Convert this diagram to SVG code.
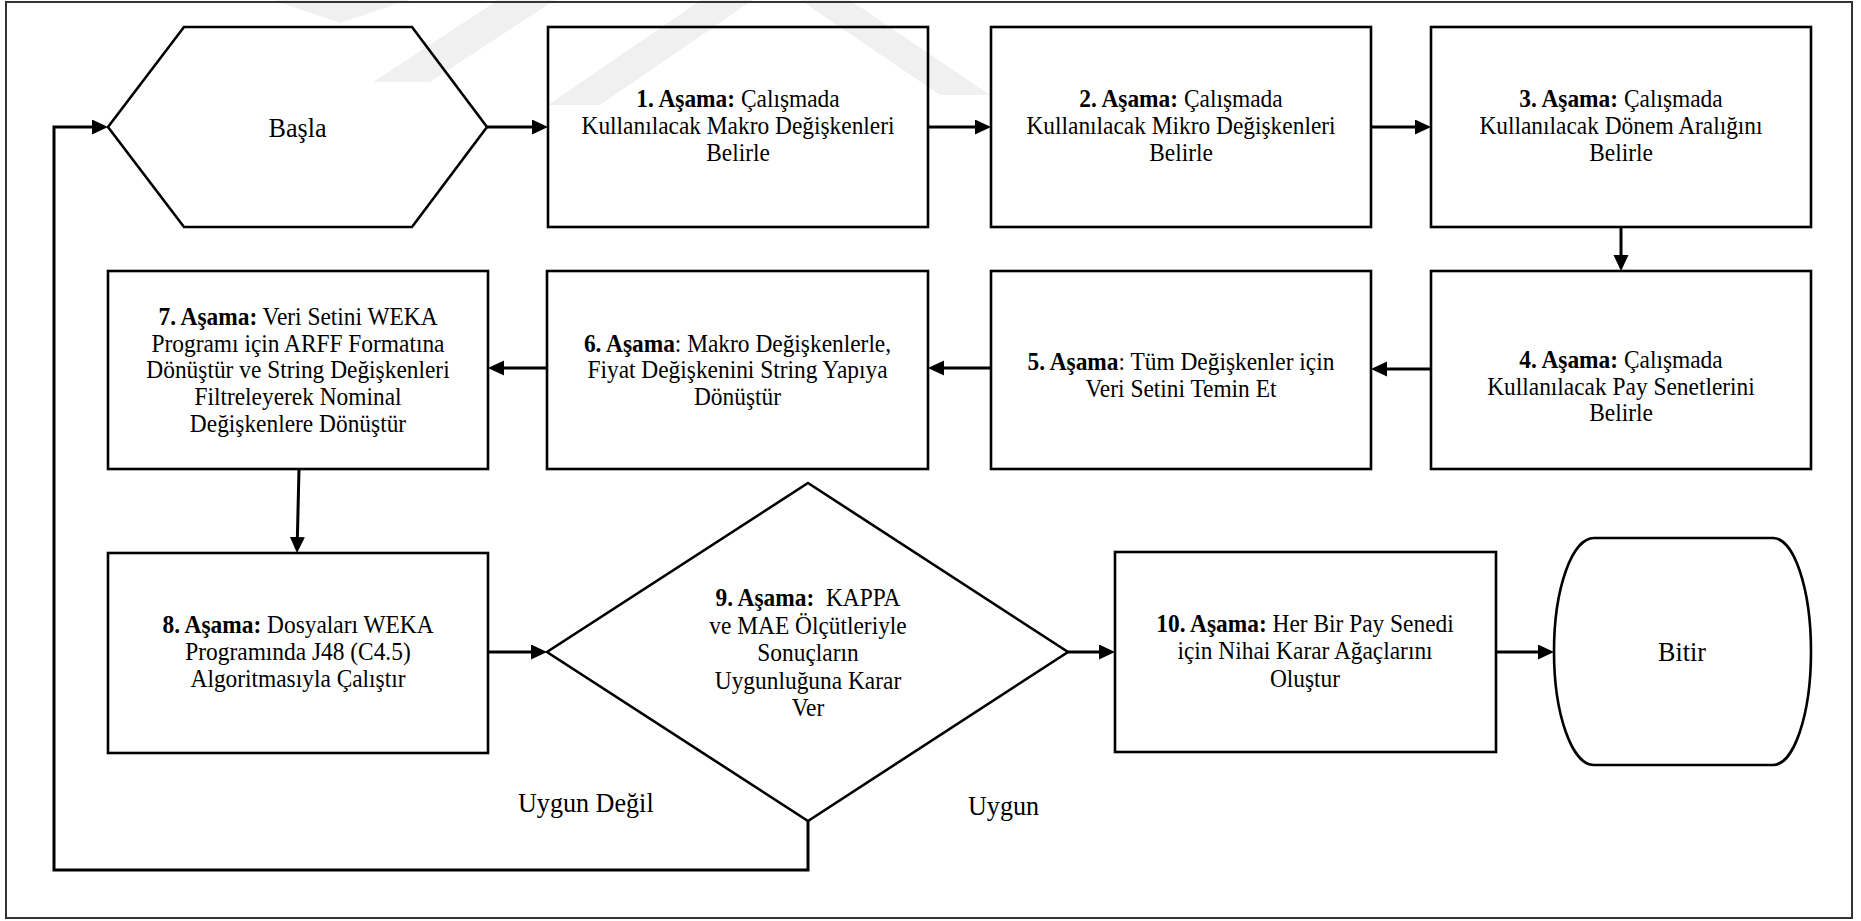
<svg xmlns="http://www.w3.org/2000/svg" width="1861" height="921" viewBox="0 0 1861 921">
  <style>
    .shape { fill: none; stroke: #000; stroke-width: 2.6; stroke-linejoin: miter; }
    .frame { fill: none; stroke: #333; stroke-width: 2; }
    .wire { fill: none; stroke: #000; stroke-width: 3; }
    .txt { font-family: "Liberation Serif", "Times New Roman", serif; font-size: 26px; fill: #000; text-anchor: middle; }
    .big { font-size: 27.5px; }
    .lbl { font-family: "Liberation Serif", "Times New Roman", serif; font-size: 27.5px; fill: #000; }
    .b { font-weight: bold; }
    .mark { fill: #000; fill-opacity: 0.06; }
  </style>
  <defs>
    <marker id="head" markerUnits="userSpaceOnUse" markerWidth="17" markerHeight="16" refX="8" refY="7.5" orient="auto">
      <path d="M0,0 L16,7.5 L0,15 Z" fill="#000"/>
    </marker>
  </defs>

  <rect width="1861" height="921" fill="#fff"/>

  <!-- faint page watermark strokes along the top edge -->
  <g id="watermark">
    <polygon class="mark" points="273,0 409,0 340,23"/>
    <polygon class="mark" points="498,0 555,0 430,82 373,82"/>
    <polygon class="mark" points="701,0 753,0 600,105 548,105"/>
    <polygon class="mark" points="800,0 850,0 990,95 940,95"/>
  </g>

  <rect class="frame" x="6" y="2" width="1846" height="916"/>

  <!-- connectors -->
  <g id="connectors">
    <path class="wire" d="M808,821 V870 H54 V127 H100" marker-end="url(#head)"/>
    <path class="wire" d="M487,127 H540" marker-end="url(#head)"/>
    <path class="wire" d="M928,127 H983" marker-end="url(#head)"/>
    <path class="wire" d="M1371,127 H1423" marker-end="url(#head)"/>
    <path class="wire" d="M1621,227 V263" marker-end="url(#head)"/>
    <path class="wire" d="M1431,369 H1379" marker-end="url(#head)"/>
    <path class="wire" d="M991,368 H936" marker-end="url(#head)"/>
    <path class="wire" d="M547,368 H496" marker-end="url(#head)"/>
    <path class="wire" d="M299,469 L297.2,545" marker-end="url(#head)"/>
    <path class="wire" d="M488,652 H539" marker-end="url(#head)"/>
    <path class="wire" d="M1068,652 H1107" marker-end="url(#head)"/>
    <path class="wire" d="M1496,652 H1546" marker-end="url(#head)"/>
  </g>

  <!-- text is set slightly condensed (x scaled about each node centre) -->
  <g id="start">
    <polygon class="shape" points="108,127 184,27 412,27 487,127 412,227 184,227"/>
    <g transform="matrix(0.95 0 0 1 14.9 0)">
      <text class="txt big" x="297.5" y="137">Başla</text>
    </g>
  </g>

  <g id="step1">
    <rect class="shape" x="548" y="27" width="380" height="200"/>
    <g transform="matrix(0.9 0 0 1 73.8 0)">
      <text class="txt" x="738" y="107"><tspan class="b">1. Aşama:</tspan> Çalışmada</text>
      <text class="txt" x="738" y="134">Kullanılacak Makro Değişkenleri</text>
      <text class="txt" x="738" y="161">Belirle</text>
    </g>
  </g>

  <g id="step2">
    <rect class="shape" x="991" y="27" width="380" height="200"/>
    <g transform="matrix(0.9 0 0 1 118.1 0)">
      <text class="txt" x="1181" y="107"><tspan class="b">2. Aşama:</tspan> Çalışmada</text>
      <text class="txt" x="1181" y="134">Kullanılacak Mikro Değişkenleri</text>
      <text class="txt" x="1181" y="161">Belirle</text>
    </g>
  </g>

  <g id="step3">
    <rect class="shape" x="1431" y="27" width="380" height="200"/>
    <g transform="matrix(0.9 0 0 1 162.1 0)">
      <text class="txt" x="1621" y="107"><tspan class="b">3. Aşama:</tspan> Çalışmada</text>
      <text class="txt" x="1621" y="134">Kullanılacak Dönem Aralığını</text>
      <text class="txt" x="1621" y="161">Belirle</text>
    </g>
  </g>

  <g id="step4">
    <rect class="shape" x="1431" y="271" width="380" height="198"/>
    <g transform="matrix(0.9 0 0 1 162.1 0)">
      <text class="txt" x="1621" y="368"><tspan class="b">4. Aşama:</tspan> Çalışmada</text>
      <text class="txt" x="1621" y="395">Kullanılacak Pay Senetlerini</text>
      <text class="txt" x="1621" y="421">Belirle</text>
    </g>
  </g>

  <g id="step5">
    <rect class="shape" x="991" y="271" width="380" height="198"/>
    <g transform="matrix(0.9 0 0 1 118.1 0)">
      <text class="txt" x="1181" y="370"><tspan class="b">5. Aşama</tspan>: Tüm Değişkenler için</text>
      <text class="txt" x="1181" y="397">Veri Setini Temin Et</text>
    </g>
  </g>

  <g id="step6">
    <rect class="shape" x="547" y="271" width="381" height="198"/>
    <g transform="matrix(0.9 0 0 1 73.75 0)">
      <text class="txt" x="737.5" y="352"><tspan class="b">6. Aşama</tspan>: Makro Değişkenlerle,</text>
      <text class="txt" x="737.5" y="378">Fiyat Değişkenini String Yapıya</text>
      <text class="txt" x="737.5" y="405">Dönüştür</text>
    </g>
  </g>

  <g id="step7">
    <rect class="shape" x="108" y="271" width="380" height="198"/>
    <g transform="matrix(0.9 0 0 1 29.8 0)">
      <text class="txt" x="298" y="325"><tspan class="b">7. Aşama:</tspan> Veri Setini WEKA</text>
      <text class="txt" x="298" y="352">Programı için ARFF Formatına</text>
      <text class="txt" x="298" y="378">Dönüştür ve String Değişkenleri</text>
      <text class="txt" x="298" y="405">Filtreleyerek Nominal</text>
      <text class="txt" x="298" y="432">Değişkenlere Dönüştür</text>
    </g>
  </g>

  <g id="step8">
    <rect class="shape" x="108" y="553" width="380" height="200"/>
    <g transform="matrix(0.9 0 0 1 29.8 0)">
      <text class="txt" x="298" y="633"><tspan class="b">8. Aşama:</tspan> Dosyaları WEKA</text>
      <text class="txt" x="298" y="660">Programında J48 (C4.5)</text>
      <text class="txt" x="298" y="687">Algoritmasıyla Çalıştır</text>
    </g>
  </g>

  <g id="step9">
    <polygon class="shape" points="808,483 1068,652 808,821 547,652"/>
    <g transform="matrix(0.9 0 0 1 80.8 0)">
      <text class="txt" x="808" y="606"><tspan class="b">9. Aşama:</tspan>&#160; KAPPA</text>
      <text class="txt" x="808" y="634">ve MAE Ölçütleriyle</text>
      <text class="txt" x="808" y="661">Sonuçların</text>
      <text class="txt" x="808" y="689">Uygunluğuna Karar</text>
      <text class="txt" x="808" y="716">Ver</text>
    </g>
  </g>

  <g id="step10">
    <rect class="shape" x="1115" y="552" width="381" height="200"/>
    <g transform="matrix(0.9 0 0 1 130.5 0)">
      <text class="txt" x="1305" y="632"><tspan class="b">10. Aşama:</tspan> Her Bir Pay Senedi</text>
      <text class="txt" x="1305" y="659">için Nihai Karar Ağaçlarını</text>
      <text class="txt" x="1305" y="687">Oluştur</text>
    </g>
  </g>

  <g id="finish">
    <path class="shape" d="M1594,538 H1773 A38,113.5 0 0 1 1773,765 H1594 A40,113.5 0 0 1 1594,538 Z"/>
    <g transform="matrix(0.95 0 0 1 84.1 0)">
      <text class="txt big" x="1682" y="661">Bitir</text>
    </g>
  </g>

  <g id="labels">
    <g transform="matrix(0.95 0 0 1 25.9 0)">
      <text class="lbl" x="518" y="812">Uygun Değil</text>
    </g>
    <g transform="matrix(0.95 0 0 1 48.4 0)">
      <text class="lbl" x="968" y="815">Uygun</text>
    </g>
  </g>
</svg>
